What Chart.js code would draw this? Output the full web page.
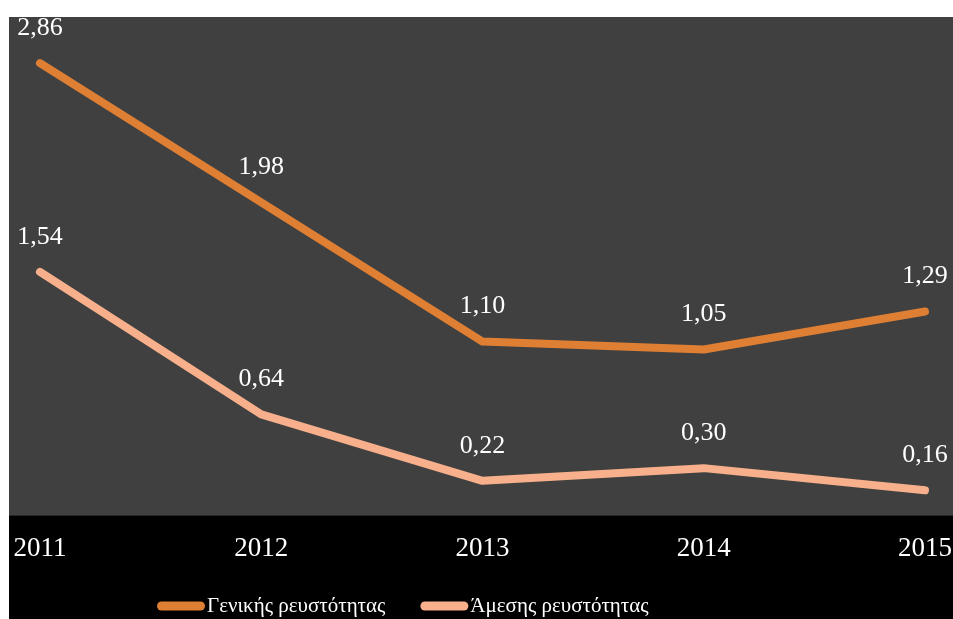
<!DOCTYPE html>
<html>
<head>
<meta charset="utf-8">
<script src="https://cdn.jsdelivr.net/npm/chart.js@4/dist/chart.umd.min.js"></script>
<style>
    html, body { margin: 0; padding: 0; background: #fff; }
    .chart { position: absolute; left: 9px; top: 17px; width: 944px; height: 602px; background: #000; }
</style>
</head>
<body>
<div class="chart"><canvas id="chart"></canvas></div>
<script>
const years = ['2011', '2012', '2013', '2014', '2015'];
const generalLiquidity = [2.86, 1.98, 1.10, 1.05, 1.29];
const quickLiquidity = [1.54, 0.64, 0.22, 0.30, 0.16];
const seriesNames = ['Γενικής ρευστότητας', 'Άμεσης ρευστότητας'];
const colors = ['#de7f34', '#f7b08b'];

const serif = 'Liberation Serif, Times New Roman, serif';
const fmt = v => v.toFixed(2).replace('.', ',');

// grey plot panel, the strip below stays black
const plotBackground = {
    id: 'plotBackground',
    beforeDraw(chart) {
        const { ctx, chartArea, width } = chart;
        ctx.save();
        ctx.fillStyle = '#404040';
        ctx.fillRect(0, 0, width, chartArea.bottom);
        ctx.restore();
    }
};

// values above every point
const pointLabels = {
    id: 'pointLabels',
    afterDatasetsDraw(chart) {
        const { ctx } = chart;
        ctx.save();
        ctx.fillStyle = '#fff';
        ctx.font = '26px ' + serif;
        ctx.textAlign = 'center';
        ctx.textBaseline = 'middle';
        chart.data.datasets.forEach((ds, i) => {
            chart.getDatasetMeta(i).data.forEach((pt, j) => {
                ctx.fillText(fmt(ds.data[j]), pt.x, pt.y - 35);
            });
        });
        ctx.restore();
    }
};

// legend sits left of centre and runs off the bottom edge
const bottomLegend = {
    id: 'bottomLegend',
    afterDraw(chart) {
        const { ctx } = chart;
        let x = 148;
        const y = 589;
        ctx.save();
        ctx.font = '21px ' + serif;
        ctx.textBaseline = 'middle';
        chart.data.datasets.forEach(ds => {
            ctx.fillStyle = ds.borderColor;
            ctx.beginPath();
            ctx.roundRect(x, y - 4.5, 48, 9, 4.5);
            ctx.fill();
            ctx.fillStyle = '#fff';
            ctx.fillText(ds.label, x + 50, y);
            x += 50 + ctx.measureText(ds.label).width + 35;
        });
        ctx.restore();
    }
};

new Chart(document.getElementById('chart'), {
    type: 'line',
    data: {
        labels: years,
        datasets: [
            { label: seriesNames[0], data: generalLiquidity, borderColor: colors[0] },
            { label: seriesNames[1], data: quickLiquidity, borderColor: colors[1] }
        ].map(ds => Object.assign(ds, {
            borderWidth: 8,
            borderCapStyle: 'round',
            borderJoinStyle: 'round',
            pointRadius: 0,
            tension: 0,
            clip: false
        }))
    },
    options: {
        responsive: true,
        maintainAspectRatio: false,
        devicePixelRatio: 1,
        animation: false,
        layout: { padding: { left: 31, right: 28, top: 24, bottom: 37 } },
        plugins: { legend: { display: false }, tooltip: { enabled: false } },
        scales: {
            x: {
                offset: false,
                grid: { display: false, drawTicks: false },
                border: { display: false },
                ticks: {
                    color: '#fff',
                    font: { family: serif, size: 27 },
                    padding: 17,
                    maxRotation: 0,
                    autoSkip: false
                },
                // edge labels may hang over, don't let them push the plot inwards
                afterFit(scale) {
                    scale.paddingLeft = 0;
                    scale.paddingRight = 0;
                }
            },
            y: { display: false, min: 0, max: 3 }
        }
    },
    plugins: [plotBackground, pointLabels, bottomLegend]
});
</script>
</body>
</html>
